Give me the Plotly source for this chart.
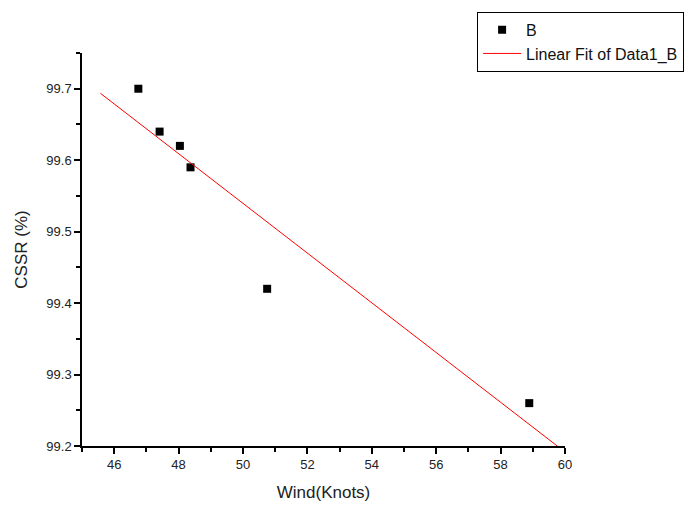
import numpy as np
import plotly.graph_objects as go

wind = [46.75, 47.41, 48.04, 48.37, 50.75, 58.89]
cssr = [99.70, 99.64, 99.62, 99.59, 99.42, 99.26]
fit_x_range = [45.57, 59.76]

slope, intercept = np.polyfit(wind, cssr, 1)
fit_x = np.array(fit_x_range)
fit_y = slope * fit_x + intercept

FONT = "Liberation Sans, Arial, sans-serif"

fig = go.Figure()
fig.add_trace(go.Scatter(
    x=wind, y=cssr, mode="markers", name="B",
    marker=dict(symbol="square", size=8, color="black"),
))
fig.add_trace(go.Scatter(
    x=fit_x, y=fit_y, mode="lines", name="Linear Fit of Data1_B",
    line=dict(color="red", width=1),
))

axis_common = dict(
    showgrid=False, zeroline=False, showline=True, linecolor="black", linewidth=1.5,
    ticks="outside", ticklen=6, tickwidth=1.5, tickcolor="black",
    tickfont=dict(family=FONT, size=13, color="#222"),
    mirror=False, automargin=False,
)

fig.update_layout(
    width=694, height=506,
    margin=dict(l=82, r=129, t=53, b=60, autoexpand=False),
    paper_bgcolor="white", plot_bgcolor="white",
    font=dict(family=FONT, color="#222"),
    showlegend=True,
    legend=dict(
        x=0.818, y=1.105, xanchor="left", yanchor="top",
        bordercolor="black", borderwidth=1, bgcolor="white",
        font=dict(family=FONT, size=16, color="#111"),
        tracegroupgap=0, itemwidth=38,
    ),
    xaxis=dict(
        range=[45, 60], dtick=2, tick0=46,
        minor=dict(dtick=1, ticks="outside", ticklen=4, tickwidth=1.5, tickcolor="black"),
        title=dict(text="Wind(Knots)", font=dict(family=FONT, size=17, color="#222"), standoff=15),
        **axis_common,
    ),
    yaxis=dict(
        range=[99.2, 99.75], dtick=0.1, tick0=99.2, tickformat=".1f",
        minor=dict(dtick=0.05, ticks="outside", ticklen=4, tickwidth=1.5, tickcolor="black"),
        title=dict(text="CSSR (%)", font=dict(family=FONT, size=17, color="#222"), standoff=14),
        **axis_common,
    ),
)

fig.write_html("out.html")
